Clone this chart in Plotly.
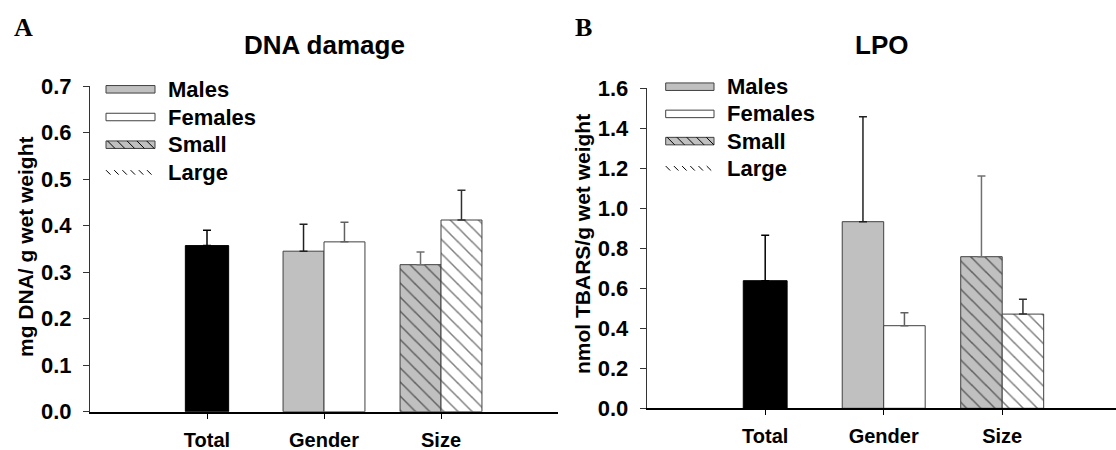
import plotly.graph_objects as go

# ---------------- data ----------------
categories = ["Total", "Gender", "Size"]
cat_pos = [1, 2, 3]
legend_names = ["Males", "Females", "Small", "Large"]

# Panel A: DNA damage (mg DNA / g wet weight)
dna_total = [0.357]
dna_total_se = [0.033]
dna_males = [0.345]
dna_males_se = [0.058]
dna_females = [0.365]
dna_females_se = [0.042]
dna_small = [0.316]
dna_small_se = [0.027]
dna_large = [0.412]
dna_large_se = [0.064]

# Panel B: LPO (nmol TBARS / g wet weight)
lpo_total = [0.638]
lpo_total_se = [0.227]
lpo_males = [0.933]
lpo_males_se = [0.525]
lpo_females = [0.413]
lpo_females_se = [0.065]
lpo_small = [0.758]
lpo_small_se = [0.403]
lpo_large = [0.471]
lpo_large_se = [0.074]

A_yticks = [0.0, 0.1, 0.2, 0.3, 0.4, 0.5, 0.6, 0.7]
B_yticks = [0.0, 0.2, 0.4, 0.6, 0.8, 1.0, 1.2, 1.4, 1.6]

# ---------------- styling ----------------
FONT = "Liberation Sans, Arial, sans-serif"
SERIF = "Liberation Serif, Times New Roman, serif"
W, H = 1116, 450
OUTLINE = "#404040"
SILVER = "#c0c0c0"


def px(x):
    return x / W


def py(y):
    return (H - y) / H


def err(se, color):
    return dict(type="data", symmetric=False, array=se, arrayminus=[0] * len(se),
                color=color, thickness=1.5, width=4)


def hatch(size):
    return dict(shape="\\", size=size, solidity=0.15, fgcolor="black")


def add_panel(fig, xa, ya, total, total_se, males, males_se,
              females, females_se, small, small_se, large, large_se):
    fig.add_trace(go.Bar(
        x=[cat_pos[0]], y=total, width=0.37, offset=-0.185,
        marker=dict(color="black", line=dict(color="black", width=1)),
        error_y=err(total_se, "black"), showlegend=False,
        xaxis=xa, yaxis=ya, name="Total"))
    fig.add_trace(go.Bar(
        x=[cat_pos[1]], y=males, width=0.35, offset=-0.35,
        marker=dict(color=SILVER, line=dict(color=OUTLINE, width=1)),
        error_y=err(males_se, "#202020"), showlegend=False,
        xaxis=xa, yaxis=ya, name=legend_names[0]))
    fig.add_trace(go.Bar(
        x=[cat_pos[1]], y=females, width=0.35, offset=0,
        marker=dict(color="white", line=dict(color=OUTLINE, width=1)),
        error_y=err(females_se, "#606060"), showlegend=False,
        xaxis=xa, yaxis=ya, name=legend_names[1]))
    fig.add_trace(go.Bar(
        x=[cat_pos[2]], y=small, width=0.35, offset=-0.35,
        marker=dict(color=SILVER, line=dict(color=OUTLINE, width=1),
                    pattern=dict(bgcolor=SILVER, **hatch(10))),
        error_y=err(small_se, "#707070"), showlegend=False,
        xaxis=xa, yaxis=ya, name=legend_names[2]))
    fig.add_trace(go.Bar(
        x=[cat_pos[2]], y=large, width=0.35, offset=0,
        marker=dict(color="white", line=dict(color=OUTLINE, width=1),
                    pattern=dict(bgcolor="white", **hatch(10))),
        error_y=err(large_se, "#303030"), showlegend=False,
        xaxis=xa, yaxis=ya, name=legend_names[3]))


fig = go.Figure()
add_panel(fig, "x", "y", dna_total, dna_total_se, dna_males, dna_males_se,
          dna_females, dna_females_se, dna_small, dna_small_se, dna_large, dna_large_se)
add_panel(fig, "x2", "y2", lpo_total, lpo_total_se, lpo_males, lpo_males_se,
          lpo_females, lpo_females_se, lpo_small, lpo_small_se, lpo_large, lpo_large_se)

tickfont = dict(family=FONT, size=22, color="black", weight="bold")
xtickfont = dict(family=FONT, size=20, color="black", weight="bold")

xcommon = dict(tickvals=cat_pos, ticktext=categories, showline=True, linecolor="black",
               linewidth=2, ticks="outside", ticklen=5, tickcolor="black", tickwidth=1,
               showgrid=False, zeroline=False, tickfont=xtickfont, ticklabelstandoff=4,
               fixedrange=True, automargin=False)
ycommon = dict(showline=True, linecolor="#333333", linewidth=1, ticks="outside",
               ticklen=6, tickcolor="#333333", tickwidth=1, showgrid=False,
               zeroline=False, tickfont=tickfont, tickformat=".1f", ticklabelstandoff=7,
               fixedrange=True, automargin=False)

xA0, xA1 = 90, 558
xB0, xB1 = 646.7, 1116
fig.update_layout(
    width=W, height=H, autosize=False,
    margin=dict(l=0, r=0, t=0, b=0, pad=0, autoexpand=False),
    paper_bgcolor="white", plot_bgcolor="white",
    barmode="overlay", showlegend=False,
    xaxis=dict(domain=[px(xA0), px(xA1)], range=[0, 4], anchor="y", **xcommon),
    yaxis=dict(domain=[py(411.7), py(86)], range=[0, 0.7],
               tickvals=A_yticks, anchor="x", **ycommon),
    xaxis2=dict(domain=[px(xB0), px(xB1)], range=[0, (xB1 - xB0) / 118.5],
                anchor="y2", **xcommon),
    yaxis2=dict(domain=[py(408.3), py(88.3)], range=[0, 1.6],
                tickvals=B_yticks, anchor="x2", **ycommon),
)


# ---------------- legends (wide flat swatches, as in the original) ----------------
def draw_legend(fig, sx0, sx1, tx, y0, dy):
    sw_h = 7.5
    for i, name in enumerate(legend_names):
        yc = y0 + i * dy
        if name in ("Males", "Females", "Small"):
            fill = "white" if name == "Females" else SILVER
            fig.add_shape(type="rect", xref="paper", yref="paper",
                          x0=px(sx0), x1=px(sx1), y0=py(yc + sw_h / 2), y1=py(yc - sw_h / 2),
                          fillcolor=fill, line=dict(color=OUTLINE, width=1))
        if name in ("Small", "Large"):
            hh = sw_h if name == "Small" else 4.5
            step = 9.8 if name == "Small" else 8.2
            segs = []
            xs = sx0 + (1.5 if name == "Small" else 0)
            while xs + hh <= sx1 + 0.1:
                segs.append("M%.5f,%.5f L%.5f,%.5f" % (px(xs), py(yc - hh / 2),
                                                      px(xs + hh), py(yc + hh / 2)))
                xs += step
            fig.add_shape(type="path", xref="paper", yref="paper", path=" ".join(segs),
                          line=dict(color="black", width=1))
        fig.add_annotation(text=name, x=px(tx), y=py(yc), xref="paper", yref="paper",
                           showarrow=False, xanchor="left", yanchor="middle",
                           font=dict(family=FONT, size=22, color="black", weight="bold"))


draw_legend(fig, 106, 155, 166, 89.3, 27.7)
draw_legend(fig, 665.7, 714, 725, 86.7, 27.2)

ann_font = dict(family=FONT, size=26, color="black", weight="bold")
fig.add_annotation(text="DNA damage", x=px((xA0 + xA1) / 2), y=py(45),
                   xref="paper", yref="paper", showarrow=False, font=ann_font,
                   xanchor="center", yanchor="middle")
fig.add_annotation(text="LPO", x=px((xB0 + xB1) / 2), y=py(45),
                   xref="paper", yref="paper", showarrow=False, font=ann_font,
                   xanchor="center", yanchor="middle")
lab_font = dict(family=SERIF, size=26, color="black", weight="bold")
fig.add_annotation(text="A", x=px(23), y=py(27), xref="paper", yref="paper",
                   showarrow=False, font=lab_font, xanchor="center", yanchor="middle")
fig.add_annotation(text="B", x=px(583), y=py(27), xref="paper", yref="paper",
                   showarrow=False, font=lab_font, xanchor="center", yanchor="middle")
ytfont = dict(family=FONT, size=21, color="black", weight="bold")
fig.add_annotation(text="mg DNA/ g wet weight", x=px(25), y=py(247),
                   xref="paper", yref="paper", showarrow=False, font=ytfont,
                   textangle=-90, xanchor="center", yanchor="middle")
fig.add_annotation(text="nmol TBARS/g wet weight", x=px(583), y=py(244),
                   xref="paper", yref="paper", showarrow=False, font=ytfont,
                   textangle=-90, xanchor="center", yanchor="middle")

fig.write_html("out.html", config={"displayModeBar": False},
               post_script="document.body.style.margin='0px';")
